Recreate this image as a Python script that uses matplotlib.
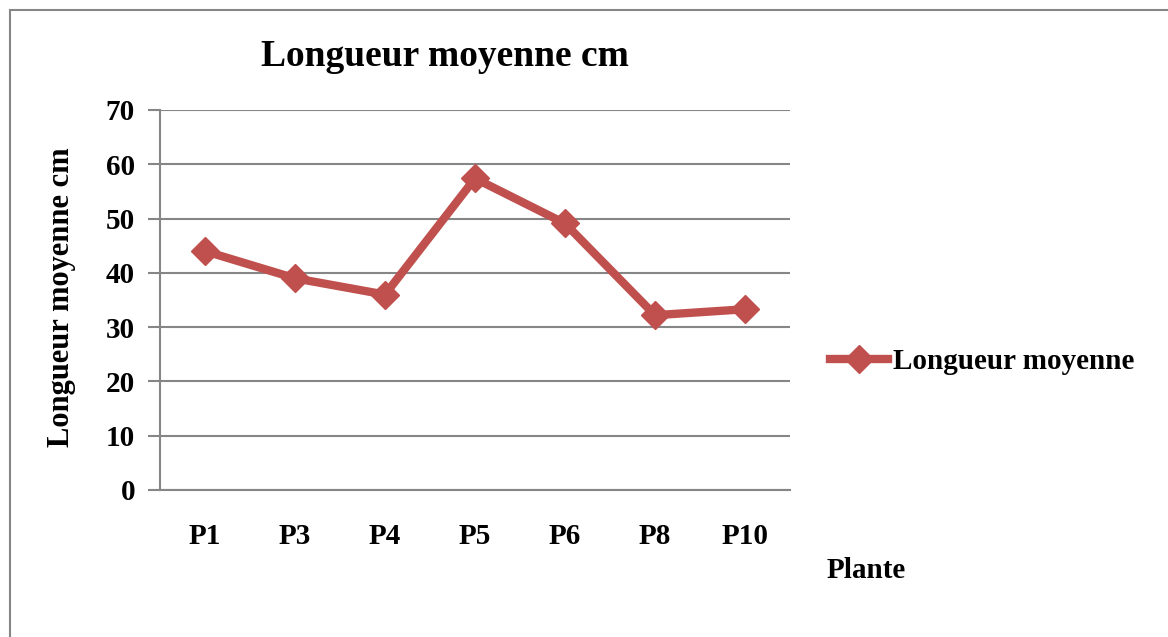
import matplotlib.pyplot as plt
from matplotlib.patches import Rectangle

plantes = ['P1', 'P3', 'P4', 'P5', 'P6', 'P8', 'P10']
longueur = [44.0, 39.0, 36.0, 57.4, 49.1, 32.2, 33.3]
y_ticks = [0, 10, 20, 30, 40, 50, 60, 70]

rouge = '#C0504D'
gris = '#868686'

plt.rcParams['font.family'] = ['Liberation Serif', 'DejaVu Serif']
plt.rcParams['font.weight'] = 'bold'

fig = plt.figure(figsize=(11.68, 6.37), dpi=100)
ax = fig.add_axes([160 / 1168, 1 - 490 / 637, 630 / 1168, 380 / 637])

# cadre gris autour du graphique
fig.patches.append(Rectangle((10 / 1168, -0.05), 1.1, 1 - 10 / 637 + 0.05,
                             transform=fig.transFigure, fill=False,
                             edgecolor=gris, linewidth=1.5))

x = range(len(plantes))
ax.plot(x, longueur, color=rouge, linewidth=6, marker='D', markersize=14,
        label='Longueur moyenne')

ax.set_xlim(-0.5, len(plantes) - 0.5)
ax.set_ylim(0, 70)
ax.set_yticks(y_ticks)
ax.set_xticks(list(x))
ax.set_xticklabels(plantes)
ax.yaxis.grid(True, color=gris, linewidth=1.5)
ax.set_axisbelow(True)

for s in ['top', 'right']:
    ax.spines[s].set_visible(False)
ax.spines['left'].set_color(gris)
ax.spines['bottom'].set_color(gris)
ax.spines['left'].set_linewidth(1.5)
ax.spines['bottom'].set_linewidth(1.5)

ax.tick_params(axis='y', length=9, width=1.5, color=gris, pad=9, labelsize=21)
ax.tick_params(axis='x', length=0, pad=24, labelsize=21)

fig.text(445 / 1168, 1 - 57 / 637, 'Longueur moyenne cm', ha='center', va='center',
         fontsize=27, fontweight='bold')
fig.text(62 / 1168, 1 - 297 / 637, 'Longueur moyenne cm', ha='center', va='center',
         rotation=90, fontsize=22, fontweight='bold')
fig.text(827 / 1168, 1 - 570 / 637, 'Plante', ha='left', va='center',
         fontsize=21, fontweight='bold')

fig.legend(loc='center left', bbox_to_anchor=(830 / 1168, 1 - 362 / 637),
           frameon=False, fontsize=21, handlelength=2.0, handletextpad=0.15,
           borderpad=0, borderaxespad=0)

fig.savefig('out.png', dpi=100)
